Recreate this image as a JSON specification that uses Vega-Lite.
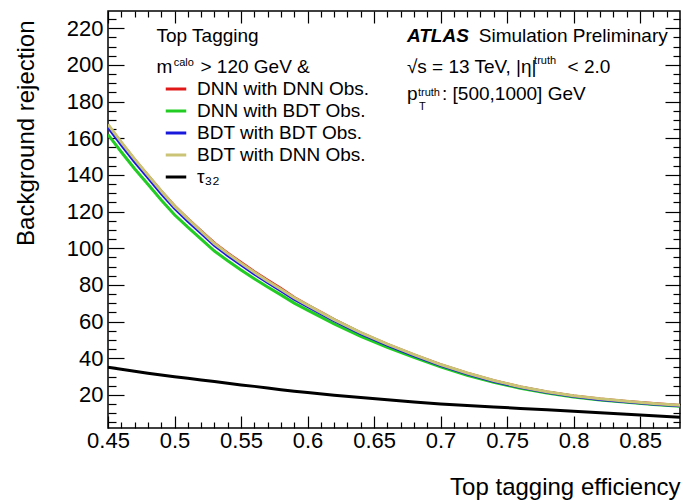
{
"$schema":"https://vega.github.io/schema/vega-lite/v6.json",
"width":572,"height":417,
"autosize":{"type":"none"},
"padding":{"left":108,"top":11,"right":3,"bottom":73},
"background":"white",
"config":{"view":{"stroke":"black","strokeWidth":1.5},"font":"Liberation Sans","text":{"font":"Liberation Sans"}},
"datasets":{
"curves":[
{"s":"DNN with DNN Obs.","eff":0.45,"rej":167.0},{"s":"DNN with DNN Obs.","eff":0.46,"rej":157.5},{"s":"DNN with DNN Obs.","eff":0.47,"rej":148.3},{"s":"DNN with DNN Obs.","eff":0.48,"rej":139.7},{"s":"DNN with DNN Obs.","eff":0.49,"rej":131.1},{"s":"DNN with DNN Obs.","eff":0.50,"rej":123.0},{"s":"DNN with DNN Obs.","eff":0.51,"rej":116.1},{"s":"DNN with DNN Obs.","eff":0.52,"rej":109.4},{"s":"DNN with DNN Obs.","eff":0.53,"rej":102.8},{"s":"DNN with DNN Obs.","eff":0.54,"rej":97.3},{"s":"DNN with DNN Obs.","eff":0.55,"rej":92.2},{"s":"DNN with DNN Obs.","eff":0.56,"rej":87.2},{"s":"DNN with DNN Obs.","eff":0.57,"rej":82.5},{"s":"DNN with DNN Obs.","eff":0.58,"rej":78.0},{"s":"DNN with DNN Obs.","eff":0.59,"rej":73.2},{"s":"DNN with DNN Obs.","eff":0.60,"rej":69.1},{"s":"DNN with DNN Obs.","eff":0.62,"rej":61.1},{"s":"DNN with DNN Obs.","eff":0.64,"rej":53.9},{"s":"DNN with DNN Obs.","eff":0.66,"rej":47.6},{"s":"DNN with DNN Obs.","eff":0.68,"rej":41.8},{"s":"DNN with DNN Obs.","eff":0.70,"rej":36.5},{"s":"DNN with DNN Obs.","eff":0.72,"rej":31.9},{"s":"DNN with DNN Obs.","eff":0.74,"rej":27.8},{"s":"DNN with DNN Obs.","eff":0.76,"rej":24.4},{"s":"DNN with DNN Obs.","eff":0.78,"rej":21.7},{"s":"DNN with DNN Obs.","eff":0.80,"rej":19.5},{"s":"DNN with DNN Obs.","eff":0.82,"rej":17.8},{"s":"DNN with DNN Obs.","eff":0.84,"rej":16.5},{"s":"DNN with DNN Obs.","eff":0.86,"rej":15.3},{"s":"DNN with DNN Obs.","eff":0.88,"rej":14.3},
{"s":"DNN with BDT Obs.","eff":0.45,"rej":162.0},{"s":"DNN with BDT Obs.","eff":0.46,"rej":152.5},{"s":"DNN with BDT Obs.","eff":0.47,"rej":143.4},{"s":"DNN with BDT Obs.","eff":0.48,"rej":134.9},{"s":"DNN with BDT Obs.","eff":0.49,"rej":126.3},{"s":"DNN with BDT Obs.","eff":0.50,"rej":118.3},{"s":"DNN with BDT Obs.","eff":0.51,"rej":111.5},{"s":"DNN with BDT Obs.","eff":0.52,"rej":105.0},{"s":"DNN with BDT Obs.","eff":0.53,"rej":98.5},{"s":"DNN with BDT Obs.","eff":0.54,"rej":93.2},{"s":"DNN with BDT Obs.","eff":0.55,"rej":88.2},{"s":"DNN with BDT Obs.","eff":0.56,"rej":83.4},{"s":"DNN with BDT Obs.","eff":0.57,"rej":78.9},{"s":"DNN with BDT Obs.","eff":0.58,"rej":74.6},{"s":"DNN with BDT Obs.","eff":0.59,"rej":70.1},{"s":"DNN with BDT Obs.","eff":0.60,"rej":66.3},{"s":"DNN with BDT Obs.","eff":0.62,"rej":58.8},{"s":"DNN with BDT Obs.","eff":0.64,"rej":52.0},{"s":"DNN with BDT Obs.","eff":0.66,"rej":46.0},{"s":"DNN with BDT Obs.","eff":0.68,"rej":40.5},{"s":"DNN with BDT Obs.","eff":0.70,"rej":35.3},{"s":"DNN with BDT Obs.","eff":0.72,"rej":30.8},{"s":"DNN with BDT Obs.","eff":0.74,"rej":26.9},{"s":"DNN with BDT Obs.","eff":0.76,"rej":23.7},{"s":"DNN with BDT Obs.","eff":0.78,"rej":21.1},{"s":"DNN with BDT Obs.","eff":0.80,"rej":18.9},{"s":"DNN with BDT Obs.","eff":0.82,"rej":17.3},{"s":"DNN with BDT Obs.","eff":0.84,"rej":16.0},{"s":"DNN with BDT Obs.","eff":0.86,"rej":14.8},{"s":"DNN with BDT Obs.","eff":0.88,"rej":13.8},
{"s":"BDT with BDT Obs.","eff":0.45,"rej":166.0},{"s":"BDT with BDT Obs.","eff":0.46,"rej":156.4},{"s":"BDT with BDT Obs.","eff":0.47,"rej":147.2},{"s":"BDT with BDT Obs.","eff":0.48,"rej":138.6},{"s":"BDT with BDT Obs.","eff":0.49,"rej":129.9},{"s":"BDT with BDT Obs.","eff":0.50,"rej":121.8},{"s":"BDT with BDT Obs.","eff":0.51,"rej":114.8},{"s":"BDT with BDT Obs.","eff":0.52,"rej":108.2},{"s":"BDT with BDT Obs.","eff":0.53,"rej":101.6},{"s":"BDT with BDT Obs.","eff":0.54,"rej":96.1},{"s":"BDT with BDT Obs.","eff":0.55,"rej":91.0},{"s":"BDT with BDT Obs.","eff":0.56,"rej":86.0},{"s":"BDT with BDT Obs.","eff":0.57,"rej":81.4},{"s":"BDT with BDT Obs.","eff":0.58,"rej":76.9},{"s":"BDT with BDT Obs.","eff":0.59,"rej":72.3},{"s":"BDT with BDT Obs.","eff":0.60,"rej":68.3},{"s":"BDT with BDT Obs.","eff":0.62,"rej":60.5},{"s":"BDT with BDT Obs.","eff":0.64,"rej":53.4},{"s":"BDT with BDT Obs.","eff":0.66,"rej":47.2},{"s":"BDT with BDT Obs.","eff":0.68,"rej":41.5},{"s":"BDT with BDT Obs.","eff":0.70,"rej":36.2},{"s":"BDT with BDT Obs.","eff":0.72,"rej":31.6},{"s":"BDT with BDT Obs.","eff":0.74,"rej":27.5},{"s":"BDT with BDT Obs.","eff":0.76,"rej":24.2},{"s":"BDT with BDT Obs.","eff":0.78,"rej":21.5},{"s":"BDT with BDT Obs.","eff":0.80,"rej":19.3},{"s":"BDT with BDT Obs.","eff":0.82,"rej":17.6},{"s":"BDT with BDT Obs.","eff":0.84,"rej":16.3},{"s":"BDT with BDT Obs.","eff":0.86,"rej":15.1},{"s":"BDT with BDT Obs.","eff":0.88,"rej":14.1},
{"s":"BDT with DNN Obs.","eff":0.45,"rej":167.5},{"s":"BDT with DNN Obs.","eff":0.46,"rej":157.9},{"s":"BDT with DNN Obs.","eff":0.47,"rej":148.6},{"s":"BDT with DNN Obs.","eff":0.48,"rej":139.9},{"s":"BDT with DNN Obs.","eff":0.49,"rej":131.2},{"s":"BDT with DNN Obs.","eff":0.50,"rej":123.0},{"s":"BDT with DNN Obs.","eff":0.51,"rej":116.0},{"s":"BDT with DNN Obs.","eff":0.52,"rej":109.3},{"s":"BDT with DNN Obs.","eff":0.53,"rej":102.6},{"s":"BDT with DNN Obs.","eff":0.54,"rej":97.1},{"s":"BDT with DNN Obs.","eff":0.55,"rej":91.9},{"s":"BDT with DNN Obs.","eff":0.56,"rej":86.9},{"s":"BDT with DNN Obs.","eff":0.57,"rej":82.2},{"s":"BDT with DNN Obs.","eff":0.58,"rej":77.7},{"s":"BDT with DNN Obs.","eff":0.59,"rej":73.0},{"s":"BDT with DNN Obs.","eff":0.60,"rej":69.0},{"s":"BDT with DNN Obs.","eff":0.62,"rej":61.1},{"s":"BDT with DNN Obs.","eff":0.64,"rej":54.0},{"s":"BDT with DNN Obs.","eff":0.66,"rej":47.7},{"s":"BDT with DNN Obs.","eff":0.68,"rej":42.0},{"s":"BDT with DNN Obs.","eff":0.70,"rej":36.6},{"s":"BDT with DNN Obs.","eff":0.72,"rej":32.0},{"s":"BDT with DNN Obs.","eff":0.74,"rej":27.9},{"s":"BDT with DNN Obs.","eff":0.76,"rej":24.5},{"s":"BDT with DNN Obs.","eff":0.78,"rej":21.8},{"s":"BDT with DNN Obs.","eff":0.80,"rej":19.6},{"s":"BDT with DNN Obs.","eff":0.82,"rej":17.9},{"s":"BDT with DNN Obs.","eff":0.84,"rej":16.6},{"s":"BDT with DNN Obs.","eff":0.86,"rej":15.4},{"s":"BDT with DNN Obs.","eff":0.88,"rej":14.4},
{"s":"τ₃₂","eff":0.45,"rej":35.1},{"s":"τ₃₂","eff":0.46,"rej":34.0},{"s":"τ₃₂","eff":0.47,"rej":32.9},{"s":"τ₃₂","eff":0.48,"rej":31.9},{"s":"τ₃₂","eff":0.49,"rej":30.9},{"s":"τ₃₂","eff":0.50,"rej":30.0},{"s":"τ₃₂","eff":0.51,"rej":29.1},{"s":"τ₃₂","eff":0.52,"rej":28.2},{"s":"τ₃₂","eff":0.53,"rej":27.3},{"s":"τ₃₂","eff":0.54,"rej":26.4},{"s":"τ₃₂","eff":0.55,"rej":25.5},{"s":"τ₃₂","eff":0.56,"rej":24.7},{"s":"τ₃₂","eff":0.57,"rej":23.8},{"s":"τ₃₂","eff":0.58,"rej":22.9},{"s":"τ₃₂","eff":0.59,"rej":22.1},{"s":"τ₃₂","eff":0.60,"rej":21.3},{"s":"τ₃₂","eff":0.62,"rej":19.9},{"s":"τ₃₂","eff":0.64,"rej":18.6},{"s":"τ₃₂","eff":0.66,"rej":17.4},{"s":"τ₃₂","eff":0.68,"rej":16.2},{"s":"τ₃₂","eff":0.70,"rej":15.1},{"s":"τ₃₂","eff":0.72,"rej":14.3},{"s":"τ₃₂","eff":0.74,"rej":13.5},{"s":"τ₃₂","eff":0.76,"rej":12.7},{"s":"τ₃₂","eff":0.78,"rej":11.9},{"s":"τ₃₂","eff":0.80,"rej":11.1},{"s":"τ₃₂","eff":0.82,"rej":10.3},{"s":"τ₃₂","eff":0.84,"rej":9.5},{"s":"τ₃₂","eff":0.86,"rej":8.7},{"s":"τ₃₂","eff":0.88,"rej":7.8}
],
"big":[
{"eff":0.4865,"rej":212.5,"t":"Top Tagging"},
{"eff":0.4865,"rej":195.6,"t":"m"},
{"eff":0.5195,"rej":195.6,"t":"> 120 GeV &"},
{"eff":0.7287,"rej":212.5,"t":"Simulation Preliminary"},
{"eff":0.6747,"rej":195.6,"t":"√s = 13 TeV, |η|"},
{"eff":0.7955,"rej":195.6,"t":"< 2.0"},
{"eff":0.6747,"rej":180.9,"t":"p"},
{"eff":0.7011,"rej":180.9,"t":": [500,1000] GeV"}
],
"small":[
{"eff":0.4994,"rej":199.6,"t":"calo"},
{"eff":0.7703,"rej":200.5,"t":"truth"},
{"eff":0.6830,"rej":182.9,"t":"truth"},
{"eff":0.6838,"rej":175.5,"t":"T"}
],
"atlas":[
{"eff":0.6747,"rej":212.5,"t":"ATLAS"}
]
},
"layer":[
{"data":{"name":"curves"},
 "mark":{"type":"line","strokeWidth":3,"clip":true},
 "encoding":{
  "x":{"field":"eff","type":"quantitative","scale":{"domain":[0.45,0.88],"nice":false,"zero":false},
   "axis":{"orient":"bottom","values":[0.45,0.46,0.47,0.48,0.49,0.5,0.51,0.52,0.53,0.54,0.55,0.56,0.57,0.58,0.59,0.6,0.61,0.62,0.63,0.64,0.65,0.66,0.67,0.68,0.69,0.7,0.71,0.72,0.73,0.74,0.75,0.76,0.77,0.78,0.79,0.8,0.81,0.82,0.83,0.84,0.85,0.86,0.87],
    "format":".2~f","labelExpr":"abs(datum.value*20 - round(datum.value*20)) < 0.001 ? datum.label : ''",
    "tickSize":{"condition":{"test":"abs(datum.value*20 - round(datum.value*20)) < 0.001","value":-12},"value":-6},
    "labelPadding":14,"labelFontSize":22,"labelColor":"black","labelFont":"Liberation Sans","labelFlush":false,"labelOverlap":false,
    "tickColor":"black","tickWidth":1.2,"domain":false,"grid":false,
    "title":"Top tagging efficiency","titleFontSize":24,"titleFontWeight":"normal","titleFont":"Liberation Sans","titleColor":"black",
    "titleX":572,"titleY":66,"titleAlign":"right","titleBaseline":"alphabetic","titleAnchor":"end"}},
  "y":{"field":"rej","type":"quantitative","scale":{"domain":[2,229.4],"nice":false,"zero":false},
   "axis":{"orient":"left","values":[5,10,15,20,25,30,35,40,45,50,55,60,65,70,75,80,85,90,95,100,105,110,115,120,125,130,135,140,145,150,155,160,165,170,175,180,185,190,195,200,205,210,215,220,225],
    "labelExpr":"datum.value % 20 == 0 ? datum.label : ''",
    "tickSize":{"condition":{"test":"datum.value % 20 == 0","value":-16},"value":-8},
    "labelPadding":21,"labelFontSize":22,"labelColor":"black","labelFont":"Liberation Sans","labelOverlap":false,"labelFlush":false,
    "tickColor":"black","tickWidth":1.2,"domain":false,"grid":false,
    "title":"Background rejection","titleFontSize":24,"titleFontWeight":"normal","titleFont":"Liberation Sans","titleColor":"black",
    "titleAngle":270,"titleAlign":"right","titleBaseline":"alphabetic","titleX":-74.5,"titleY":9}},
  "color":{"field":"s","type":"nominal",
   "scale":{"domain":["DNN with DNN Obs.","DNN with BDT Obs.","BDT with BDT Obs.","BDT with DNN Obs.","τ₃₂"],"range":["#e01818","#22cc22","#1818dd","#cbc477","#000000"]},
   "legend":{"orient":"none","legendX":56,"legendY":66,"title":null,"symbolType":"stroke","symbolStrokeWidth":3,"symbolSize":420,
    "labelFontSize":19,"labelFont":"Liberation Sans","labelColor":"black","labelOffset":9,"rowPadding":0,"padding":0,"labelLimit":400}}
 }},
{"data":{"name":"curves"},
 "mark":{"type":"line","opacity":0},
 "encoding":{
  "x":{"field":"eff","type":"quantitative",
   "axis":{"orient":"top","values":[0.45,0.46,0.47,0.48,0.49,0.5,0.51,0.52,0.53,0.54,0.55,0.56,0.57,0.58,0.59,0.6,0.61,0.62,0.63,0.64,0.65,0.66,0.67,0.68,0.69,0.7,0.71,0.72,0.73,0.74,0.75,0.76,0.77,0.78,0.79,0.8,0.81,0.82,0.83,0.84,0.85,0.86,0.87],
    "labels":false,"title":null,"domain":false,"grid":false,"tickColor":"black","tickWidth":1.2,
    "tickSize":{"condition":{"test":"abs(datum.value*20 - round(datum.value*20)) < 0.001","value":-12},"value":-6}}},
  "y":{"field":"rej","type":"quantitative",
   "axis":{"orient":"right","values":[5,10,15,20,25,30,35,40,45,50,55,60,65,70,75,80,85,90,95,100,105,110,115,120,125,130,135,140,145,150,155,160,165,170,175,180,185,190,195,200,205,210,215,220,225],
    "labels":false,"title":null,"domain":false,"grid":false,"tickColor":"black","tickWidth":1.2,
    "tickSize":{"condition":{"test":"datum.value % 20 == 0","value":-15},"value":-7}}},
  "detail":{"field":"s","type":"nominal"}
 }},
{"data":{"name":"big"},
 "mark":{"type":"text","align":"left","baseline":"alphabetic","fontSize":19,"font":"Liberation Sans","color":"black"},
 "encoding":{"x":{"field":"eff","type":"quantitative","axis":null},"y":{"field":"rej","type":"quantitative","axis":null},"text":{"field":"t"}}},
{"data":{"name":"small"},
 "mark":{"type":"text","align":"left","baseline":"alphabetic","fontSize":11,"font":"Liberation Sans","color":"black"},
 "encoding":{"x":{"field":"eff","type":"quantitative","axis":null},"y":{"field":"rej","type":"quantitative","axis":null},"text":{"field":"t"}}},
{"data":{"name":"atlas"},
 "mark":{"type":"text","align":"left","baseline":"alphabetic","fontSize":19,"font":"Liberation Sans","fontWeight":"bold","fontStyle":"italic","color":"black"},
 "encoding":{"x":{"field":"eff","type":"quantitative","axis":null},"y":{"field":"rej","type":"quantitative","axis":null},"text":{"field":"t"}}}
],
"resolve":{"axis":{"x":"independent","y":"independent"}}
}
